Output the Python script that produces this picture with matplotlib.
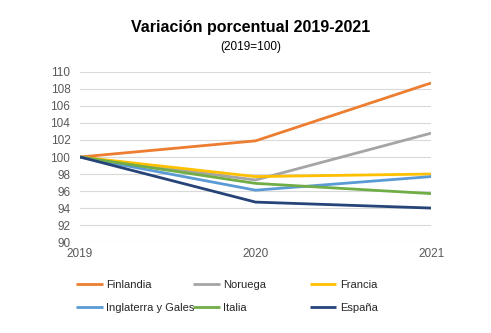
import matplotlib.pyplot as plt

years = ['2019', '2020', '2021']
finlandia = [100, 101.9, 108.7]
noruega = [100, 97.3, 102.8]
francia = [100, 97.7, 98.0]
inglaterra = [100, 96.1, 97.7]
italia = [100, 96.9, 95.7]
espana = [100, 94.7, 94.0]
yticks = list(range(90, 111, 2))

plt.rcParams['font.family'] = ['Liberation Sans', 'DejaVu Sans']

fig = plt.figure(figsize=(4.91, 3.33), dpi=100)
ax = fig.add_axes([0.163, 0.273, 0.715, 0.511])

series = [
    ('Finlandia', finlandia, '#ED7D31'),
    ('Noruega', noruega, '#A5A5A5'),
    ('Francia', francia, '#FFC000'),
    ('Inglaterra y Gales', inglaterra, '#5B9BD5'),
    ('Italia', italia, '#70AD47'),
    ('España', espana, '#264478'),
]
x = list(range(len(years)))
lines = {}
for name, vals, col in series:
    lines[name], = ax.plot(x, vals, color=col, lw=2, solid_capstyle='butt')

ax.set_xlim(0, 2)
ax.set_ylim(90, 110)
ax.set_yticks(yticks)
ax.set_xticks(x)
ax.set_xticklabels(years)
ax.grid(axis='y', color='#D9D9D9', lw=0.8)
ax.set_axisbelow(True)
for s in ax.spines.values():
    s.set_visible(False)
ax.tick_params(length=0, labelsize=8.5, colors='#595959')
ax.tick_params(axis='y', pad=7)
ax.tick_params(axis='x', pad=4)

fig.text(0.51, 0.918, 'Variación porcentual 2019-2021', ha='center', va='center',
         fontsize=11.5, fontweight='bold')
fig.text(0.51, 0.858, '(2019=100)', ha='center', va='center', fontsize=8.5)

# legend: three evenly spaced columns, two rows each
columns = [['Finlandia', 'Inglaterra y Gales'], ['Noruega', 'Italia'], ['Francia', 'España']]
col_x = [0.155, 0.393, 0.631]
for names, cx in zip(columns, col_x):
    leg = fig.legend([lines[n] for n in names], names, loc='upper left',
                     bbox_to_anchor=(cx, 0.160), frameon=False, fontsize=8,
                     borderpad=0, borderaxespad=0, handlelength=2.4,
                     handletextpad=0.3, labelspacing=1.2, labelcolor='#262626')

fig.savefig('out.png', dpi=100)
